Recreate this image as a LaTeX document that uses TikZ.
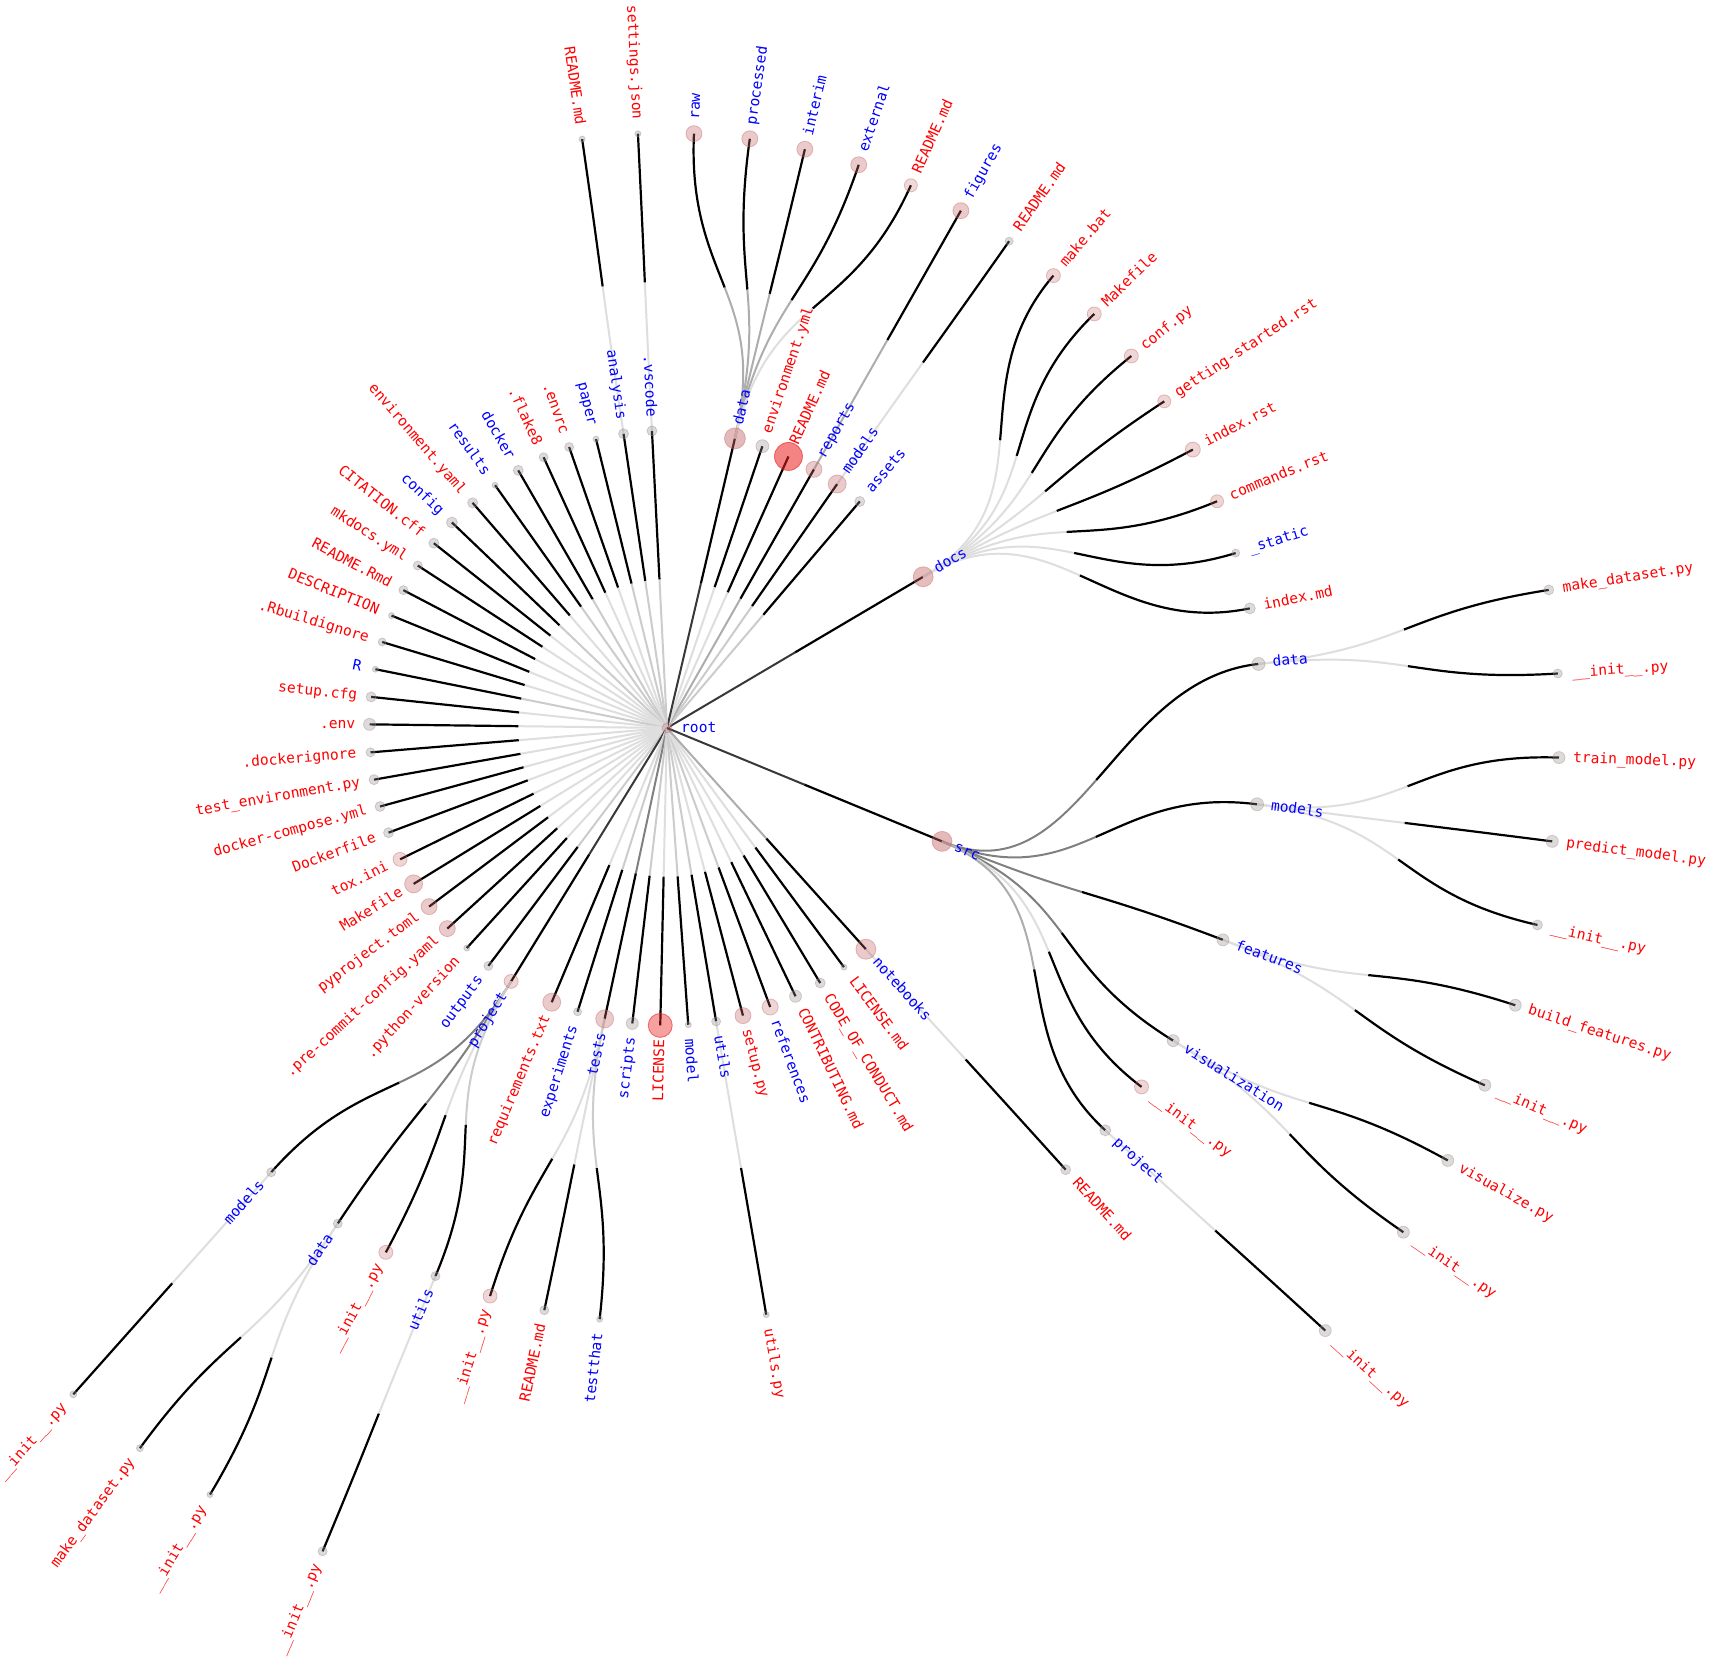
\documentclass[tikz,border=0pt]{standalone}
\usepackage{fontspec}
\newfontfamily\tagfont{DejaVu Sans Mono}
\usetikzlibrary{calc}
\definecolor{dirblue}{RGB}{0,0,255}
\definecolor{filered}{RGB}{255,0,0}
\definecolor{dotgrey}{RGB}{155,145,145}
\definecolor{dotpink}{RGB}{195,100,100}
\definecolor{dotred}{RGB}{235,30,30}

% one ring of the radial tree
\newcommand\ringstep{297.5}

% position of a tree node, plus its two bezier handles
\newcommand\setnode[3]{%
  \coordinate (#1) at (#2:{#3*\ringstep});
  \coordinate (#1-i) at (#2:{(#3-0.5)*\ringstep});
  \coordinate (#1-o) at (#2:{(#3+0.5)*\ringstep});
}

% straight link from the root, light half then dark half
\newcommand\spoke[2]{%
  \draw[#2] (root) -- ($(root)!.5!(#1)$);
  \draw[tiplink] ($(root)!.5!(#1)$) -- (#1);
}

% curved link parent -> child, split at its middle
\newcommand\twig[3]{%
  \coordinate (q0) at ($(#1)!.5!(#1-o)$);
  \coordinate (q1) at ($(#1-o)!.5!(#2-i)$);
  \coordinate (q2) at ($(#2-i)!.5!(#2)$);
  \coordinate (r0) at ($(q0)!.5!(q1)$);
  \coordinate (r1) at ($(q1)!.5!(q2)$);
  \coordinate (m) at ($(r0)!.5!(r1)$);
  \draw[#3] (#1) .. controls (q0) and (r0) .. (m);
  \draw[tiplink] (m) .. controls (r1) and (q2) .. (#2);
}

% dot and name of a node
\newcommand\leaf[6]{%
  \node[#4, minimum size=#3] (#1-dot) at (#1) {};
  \ifdim#2pt<90pt
    \node[#5, anchor=west, rotate=#2] (#1-txt) at ($(#1)+(#2:14)$) {#6};
  \else
    \node[#5, anchor=east, rotate=#2+180] (#1-txt) at ($(#1)+(#2:14)$) {#6};
  \fi
}

\begin{document}
\begin{tikzpicture}[
    x=1pt, y=1pt,
    filelink/.style={draw=black!13, line width=2pt},
    dirlink/.style={draw=black!20, line width=2pt},
    midlink/.style={draw=black!32, line width=2pt},
    busylink/.style={draw=black!50, line width=2pt},
    mainlink/.style={draw=black!78, line width=2pt},
    tiplink/.style={draw=black, line width=2.2pt},
    blob/.style={circle, inner sep=0pt, line width=.8pt},
    gdot/.style={blob, fill=dotgrey, draw=dotgrey, fill opacity=.33, draw opacity=.4},
    pdot/.style={blob, fill=dotpink, draw=dotpink, fill opacity=.34, draw opacity=.4},
    rdot/.style={blob, fill=dotred, draw=dotred, fill opacity=.55, draw opacity=.6},
    nametag/.style={font=\tagfont\fontsize{14.6}{17}\selectfont, inner sep=0pt, text height=9pt, text depth=0pt},
    dirtag/.style={nametag, text=dirblue},
    filetag/.style={nametag, text=filered}
  ]
  \fill[white] (-667,-937) rectangle (1046,728);
  \useasboundingbox (-667,-937) rectangle (1046,728);

  \coordinate (root) at (0,0);

  % first ring
  \setnode{docs}{30.55}{1}
  \setnode{assets}{49.6}{1}
  \setnode{models}{55.1}{1}
  \setnode{reports}{60.4}{1}
  \setnode{readme}{65.9}{1}
  \setnode{envyml}{71.3}{1}
  \setnode{data}{76.8}{1}
  \setnode{vscode}{92.9}{1}
  \setnode{analysis}{98.4}{1}
  \setnode{paper}{103.8}{1}
  \setnode{envrc}{109.2}{1}
  \setnode{flake}{114.5}{1}
  \setnode{docker}{120}{1}
  \setnode{results}{125.3}{1}
  \setnode{envyaml}{130.8}{1}
  \setnode{config}{136.3}{1}
  \setnode{citation}{141.6}{1}
  \setnode{mkdocs}{146.9}{1}
  \setnode{readmermd}{152.4}{1}
  \setnode{description}{157.8}{1}
  \setnode{rbuild}{163.2}{1}
  \setnode{rdir}{168.6}{1}
  \setnode{setupcfg}{174}{1}
  \setnode{env}{179.3}{1}
  \setnode{dockerignore}{184.7}{1}
  \setnode{testenv}{190}{1}
  \setnode{compose}{195.3}{1}
  \setnode{dockerfile}{200.6}{1}
  \setnode{tox}{206.2}{1}
  \setnode{makefile}{211.6}{1}
  \setnode{pyproject}{216.9}{1}
  \setnode{precommit}{222.4}{1}
  \setnode{pyversion}{227.7}{1}
  \setnode{outputs}{233.1}{1}
  \setnode{project}{238.4}{1}
  \setnode{requirements}{247.2}{1}
  \setnode{experiments}{252.5}{1}
  \setnode{tests}{257.9}{1}
  \setnode{scripts}{263.3}{1}
  \setnode{license}{268.7}{1}
  \setnode{model}{-85.9}{1}
  \setnode{utils}{-80.5}{1}
  \setnode{setuppy}{-75.2}{1}
  \setnode{references}{-69.7}{1}
  \setnode{contributing}{-64.4}{1}
  \setnode{conduct}{-59}{1}
  \setnode{licensemd}{-53.5}{1}
  \setnode{notebooks}{-48.04}{1}
  \setnode{src}{-22.4}{1}

  % second ring
  \setnode{docs-makebat}{49.5}{2}
  \setnode{docs-makefile}{44.1}{2}
  \setnode{docs-conf}{38.7}{2}
  \setnode{docs-start}{33.3}{2}
  \setnode{docs-index}{27.9}{2}
  \setnode{docs-commands}{22.4}{2}
  \setnode{docs-static}{17.1}{2}
  \setnode{docs-indexmd}{11.6}{2}
  \setnode{models-readme}{54.9}{2}
  \setnode{reports-figures}{60.4}{2}
  \setnode{data-raw}{87.4}{2}
  \setnode{data-processed}{82}{2}
  \setnode{data-interim}{76.6}{2}
  \setnode{data-external}{71.2}{2}
  \setnode{data-readme}{65.8}{2}
  \setnode{vscode-settings}{92.8}{2}
  \setnode{analysis-readme}{98.2}{2}
  \setnode{project-models}{228.3}{2}
  \setnode{project-data}{236.4}{2}
  \setnode{project-init}{241.8}{2}
  \setnode{project-utils}{247.1}{2}
  \setnode{tests-init}{252.7}{2}
  \setnode{tests-readme}{258.1}{2}
  \setnode{tests-testthat}{263.5}{2}
  \setnode{utils-py}{-80.4}{2}
  \setnode{notebooks-readme}{-47.93}{2}
  \setnode{src-data}{6.18}{2}
  \setnode{src-models}{-7.37}{2}
  \setnode{src-features}{-20.86}{2}
  \setnode{src-vis}{-31.7}{2}
  \setnode{src-init}{-37.1}{2}
  \setnode{src-project}{-42.55}{2}

  % third ring
  \setnode{src-data-make}{8.9}{3}
  \setnode{src-data-init}{3.5}{3}
  \setnode{src-models-train}{-1.9}{3}
  \setnode{src-models-predict}{-7.3}{3}
  \setnode{src-models-init}{-12.75}{3}
  \setnode{src-features-build}{-18.1}{3}
  \setnode{src-features-init}{-23.6}{3}
  \setnode{src-vis-py}{-28.98}{3}
  \setnode{src-vis-init}{-34.4}{3}
  \setnode{src-project-init}{-42.47}{3}
  \setnode{project-models-init}{228.3}{3}
  \setnode{project-data-make}{233.8}{3}
  \setnode{project-data-init}{239.2}{3}
  \setnode{project-utils-init}{247.3}{3}

  % links from the root
  \spoke{docs}{mainlink}
  \spoke{assets}{dirlink}
  \spoke{models}{dirlink}
  \spoke{reports}{midlink}
  \spoke{readme}{filelink}
  \spoke{envyml}{filelink}
  \spoke{data}{mainlink}
  \spoke{vscode}{dirlink}
  \spoke{analysis}{dirlink}
  \spoke{paper}{dirlink}
  \spoke{envrc}{filelink}
  \spoke{flake}{filelink}
  \spoke{docker}{dirlink}
  \spoke{results}{dirlink}
  \spoke{envyaml}{filelink}
  \spoke{config}{dirlink}
  \spoke{citation}{filelink}
  \spoke{mkdocs}{filelink}
  \spoke{readmermd}{filelink}
  \spoke{description}{filelink}
  \spoke{rbuild}{filelink}
  \spoke{rdir}{dirlink}
  \spoke{setupcfg}{filelink}
  \spoke{env}{filelink}
  \spoke{dockerignore}{filelink}
  \spoke{testenv}{filelink}
  \spoke{compose}{filelink}
  \spoke{dockerfile}{filelink}
  \spoke{tox}{filelink}
  \spoke{makefile}{filelink}
  \spoke{pyproject}{filelink}
  \spoke{precommit}{filelink}
  \spoke{pyversion}{filelink}
  \spoke{outputs}{dirlink}
  \spoke{project}{mainlink}
  \spoke{requirements}{filelink}
  \spoke{experiments}{dirlink}
  \spoke{tests}{busylink}
  \spoke{scripts}{dirlink}
  \spoke{license}{filelink}
  \spoke{model}{dirlink}
  \spoke{utils}{dirlink}
  \spoke{setuppy}{filelink}
  \spoke{references}{dirlink}
  \spoke{contributing}{filelink}
  \spoke{conduct}{filelink}
  \spoke{licensemd}{filelink}
  \spoke{notebooks}{midlink}
  \spoke{src}{mainlink}

  % links further out
  \twig{docs}{docs-makebat}{filelink}
  \twig{docs}{docs-makefile}{filelink}
  \twig{docs}{docs-conf}{filelink}
  \twig{docs}{docs-start}{filelink}
  \twig{docs}{docs-index}{filelink}
  \twig{docs}{docs-commands}{filelink}
  \twig{docs}{docs-static}{filelink}
  \twig{docs}{docs-indexmd}{filelink}
  \twig{models}{models-readme}{filelink}
  \twig{reports}{reports-figures}{midlink}
  \twig{data}{data-raw}{midlink}
  \twig{data}{data-processed}{midlink}
  \twig{data}{data-interim}{midlink}
  \twig{data}{data-external}{midlink}
  \twig{data}{data-readme}{filelink}
  \twig{vscode}{vscode-settings}{filelink}
  \twig{analysis}{analysis-readme}{filelink}
  \twig{project}{project-models}{busylink}
  \twig{project}{project-data}{busylink}
  \twig{project}{project-init}{filelink}
  \twig{project}{project-utils}{dirlink}
  \twig{tests}{tests-init}{filelink}
  \twig{tests}{tests-readme}{filelink}
  \twig{tests}{tests-testthat}{dirlink}
  \twig{utils}{utils-py}{filelink}
  \twig{notebooks}{notebooks-readme}{filelink}
  \twig{src}{src-data}{busylink}
  \twig{src}{src-models}{busylink}
  \twig{src}{src-features}{busylink}
  \twig{src}{src-vis}{busylink}
  \twig{src}{src-init}{filelink}
  \twig{src}{src-project}{midlink}
  \twig{src-data}{src-data-make}{filelink}
  \twig{src-data}{src-data-init}{filelink}
  \twig{src-models}{src-models-train}{filelink}
  \twig{src-models}{src-models-predict}{filelink}
  \twig{src-models}{src-models-init}{filelink}
  \twig{src-features}{src-features-build}{filelink}
  \twig{src-features}{src-features-init}{filelink}
  \twig{src-vis}{src-vis-py}{filelink}
  \twig{src-vis}{src-vis-init}{filelink}
  \twig{src-project}{src-project-init}{filelink}
  \twig{project-models}{project-models-init}{filelink}
  \twig{project-data}{project-data-make}{filelink}
  \twig{project-data}{project-data-init}{filelink}
  \twig{project-utils}{project-utils-init}{filelink}

  % dots and names
  \node[pdot, minimum size=10pt, fill opacity=.25] (root-dot) at (root) {};
  \node[dirtag, anchor=west] (root-txt) at ($(root)+(14,0)$) {root};

  \leaf{docs}{30.55}{20pt}{pdot, fill opacity=.42}{dirtag}{docs}
  \leaf{assets}{49.6}{10pt}{gdot}{dirtag}{assets}
  \leaf{models}{55.1}{18pt}{pdot}{dirtag}{models}
  \leaf{reports}{60.4}{16pt}{pdot}{dirtag}{reports}
  \leaf{readme}{65.9}{28pt}{rdot}{filetag}{README.md}
  \leaf{envyml}{71.3}{13pt}{gdot}{filetag}{environment.yml}
  \leaf{data}{76.8}{21pt}{pdot, fill opacity=.45}{dirtag}{data}
  \leaf{vscode}{92.9}{10pt}{gdot}{dirtag}{.vscode}
  \leaf{analysis}{98.4}{10pt}{gdot}{dirtag}{analysis}
  \leaf{paper}{103.8}{6pt}{gdot}{dirtag}{paper}
  \leaf{envrc}{109.2}{9pt}{gdot}{filetag}{.envrc}
  \leaf{flake}{114.5}{9pt}{gdot}{filetag}{.flake8}
  \leaf{docker}{120}{10pt}{gdot}{dirtag}{docker}
  \leaf{results}{125.3}{6pt}{gdot}{dirtag}{results}
  \leaf{envyaml}{130.8}{10pt}{gdot}{filetag}{environment.yaml}
  \leaf{config}{136.3}{11pt}{gdot}{dirtag}{config}
  \leaf{citation}{141.6}{10pt}{gdot}{filetag}{CITATION.cff}
  \leaf{mkdocs}{146.9}{9pt}{gdot}{filetag}{mkdocs.yml}
  \leaf{readmermd}{152.4}{9pt}{gdot}{filetag}{README.Rmd}
  \leaf{description}{157.8}{6pt}{gdot}{filetag}{DESCRIPTION}
  \leaf{rbuild}{163.2}{8pt}{gdot}{filetag}{.Rbuildignore}
  \leaf{rdir}{168.6}{6pt}{gdot}{dirtag}{R}
  \leaf{setupcfg}{174}{10pt}{gdot}{filetag}{setup.cfg}
  \leaf{env}{179.3}{12pt}{gdot}{filetag}{.env}
  \leaf{dockerignore}{184.7}{9pt}{gdot}{filetag}{.dockerignore}
  \leaf{testenv}{190}{10pt}{gdot}{filetag}{test\_environment.py}
  \leaf{compose}{195.3}{10pt}{gdot}{filetag}{docker-compose.yml}
  \leaf{dockerfile}{200.6}{10pt}{gdot}{filetag}{Dockerfile}
  \leaf{tox}{206.2}{14pt}{pdot, fill opacity=.26}{filetag}{tox.ini}
  \leaf{makefile}{211.6}{18pt}{pdot}{filetag}{Makefile}
  \leaf{pyproject}{216.9}{16pt}{pdot}{filetag}{pyproject.toml}
  \leaf{precommit}{222.4}{16pt}{pdot}{filetag}{.pre-commit-config.yaml}
  \leaf{pyversion}{227.7}{6pt}{gdot}{filetag}{.python-version}
  \leaf{outputs}{233.1}{9pt}{gdot}{dirtag}{outputs}
  \leaf{project}{238.4}{14pt}{pdot, fill opacity=.26}{dirtag}{project}
  \leaf{requirements}{247.2}{18pt}{pdot}{filetag}{requirements.txt}
  \leaf{experiments}{252.5}{8pt}{gdot}{dirtag}{experiments}
  \leaf{tests}{257.9}{18pt}{pdot}{dirtag}{tests}
  \leaf{scripts}{263.3}{12pt}{gdot}{dirtag}{scripts}
  \leaf{license}{268.7}{24pt}{rdot, fill opacity=.42}{filetag}{LICENSE}
  \leaf{model}{-85.9}{6pt}{gdot}{dirtag}{model}
  \leaf{utils}{-80.5}{9pt}{gdot}{dirtag}{utils}
  \leaf{setuppy}{-75.2}{16pt}{pdot}{filetag}{setup.py}
  \leaf{references}{-69.7}{16pt}{pdot, fill opacity=.26}{dirtag}{references}
  \leaf{contributing}{-64.4}{12pt}{gdot}{filetag}{CONTRIBUTING.md}
  \leaf{conduct}{-59}{10pt}{gdot}{filetag}{CODE\_OF\_CONDUCT.md}
  \leaf{licensemd}{-53.5}{6pt}{gdot}{filetag}{LICENSE.md}
  \leaf{notebooks}{-48.04}{20pt}{pdot}{dirtag}{notebooks}
  \leaf{src}{-22.4}{20pt}{pdot, fill opacity=.45}{dirtag}{src}

  \leaf{docs-makebat}{49.5}{14pt}{pdot, fill opacity=.26}{filetag}{make.bat}
  \leaf{docs-makefile}{44.1}{14pt}{pdot, fill opacity=.26}{filetag}{Makefile}
  \leaf{docs-conf}{38.7}{14pt}{pdot, fill opacity=.26}{filetag}{conf.py}
  \leaf{docs-start}{33.3}{13pt}{pdot, fill opacity=.26}{filetag}{getting-started.rst}
  \leaf{docs-index}{27.9}{15pt}{pdot, fill opacity=.26}{filetag}{index.rst}
  \leaf{docs-commands}{22.4}{13pt}{pdot, fill opacity=.26}{filetag}{commands.rst}
  \leaf{docs-static}{17.1}{8pt}{gdot}{dirtag}{\_static}
  \leaf{docs-indexmd}{11.6}{11pt}{gdot}{filetag}{index.md}
  \leaf{models-readme}{54.9}{8pt}{gdot}{filetag}{README.md}
  \leaf{reports-figures}{60.4}{16pt}{pdot}{dirtag}{figures}
  \leaf{data-raw}{87.4}{16pt}{pdot}{dirtag}{raw}
  \leaf{data-processed}{82}{16pt}{pdot}{dirtag}{processed}
  \leaf{data-interim}{76.6}{16pt}{pdot}{dirtag}{interim}
  \leaf{data-external}{71.2}{16pt}{pdot}{dirtag}{external}
  \leaf{data-readme}{65.8}{13pt}{pdot, fill opacity=.24}{filetag}{README.md}
  \leaf{vscode-settings}{92.8}{6pt}{gdot}{filetag}{settings.json}
  \leaf{analysis-readme}{98.2}{6pt}{gdot}{filetag}{README.md}
  \leaf{project-models}{228.3}{9pt}{gdot}{dirtag}{models}
  \leaf{project-data}{236.4}{9pt}{gdot}{dirtag}{data}
  \leaf{project-init}{241.8}{14pt}{pdot, fill opacity=.26}{filetag}{\_\_init\_\_.py}
  \leaf{project-utils}{247.1}{9pt}{gdot}{dirtag}{utils}
  \leaf{tests-init}{252.7}{14pt}{pdot, fill opacity=.26}{filetag}{\_\_init\_\_.py}
  \leaf{tests-readme}{258.1}{9pt}{gdot}{filetag}{README.md}
  \leaf{tests-testthat}{263.5}{6pt}{gdot}{dirtag}{testthat}
  \leaf{utils-py}{-80.4}{6pt}{gdot}{filetag}{utils.py}
  \leaf{notebooks-readme}{-47.93}{10pt}{gdot}{filetag}{README.md}
  \leaf{src-data}{6.18}{13pt}{gdot}{dirtag}{data}
  \leaf{src-models}{-7.37}{13pt}{gdot}{dirtag}{models}
  \leaf{src-features}{-20.86}{12pt}{gdot}{dirtag}{features}
  \leaf{src-vis}{-31.7}{12pt}{gdot}{dirtag}{visualization}
  \leaf{src-init}{-37.1}{14pt}{pdot, fill opacity=.26}{filetag}{\_\_init\_\_.py}
  \leaf{src-project}{-42.55}{11pt}{gdot}{dirtag}{project}

  \leaf{src-data-make}{8.9}{10pt}{gdot}{filetag}{make\_dataset.py}
  \leaf{src-data-init}{3.5}{9pt}{gdot}{filetag}{\_\_init\_\_.py}
  \leaf{src-models-train}{-1.9}{12pt}{gdot}{filetag}{train\_model.py}
  \leaf{src-models-predict}{-7.3}{12pt}{gdot}{filetag}{predict\_model.py}
  \leaf{src-models-init}{-12.75}{10pt}{gdot}{filetag}{\_\_init\_\_.py}
  \leaf{src-features-build}{-18.1}{12pt}{gdot}{filetag}{build\_features.py}
  \leaf{src-features-init}{-23.6}{12pt}{gdot}{filetag}{\_\_init\_\_.py}
  \leaf{src-vis-py}{-28.98}{12pt}{gdot}{filetag}{visualize.py}
  \leaf{src-vis-init}{-34.4}{12pt}{gdot}{filetag}{\_\_init\_\_.py}
  \leaf{src-project-init}{-42.47}{12pt}{gdot}{filetag}{\_\_init\_\_.py}
  \leaf{project-models-init}{228.3}{7pt}{gdot}{filetag}{\_\_init\_\_.py}
  \leaf{project-data-make}{233.8}{7pt}{gdot}{filetag}{make\_dataset.py}
  \leaf{project-data-init}{239.2}{6pt}{gdot}{filetag}{\_\_init\_\_.py}
  \leaf{project-utils-init}{247.3}{9pt}{gdot}{filetag}{\_\_init\_\_.py}
\end{tikzpicture}
\end{document}
